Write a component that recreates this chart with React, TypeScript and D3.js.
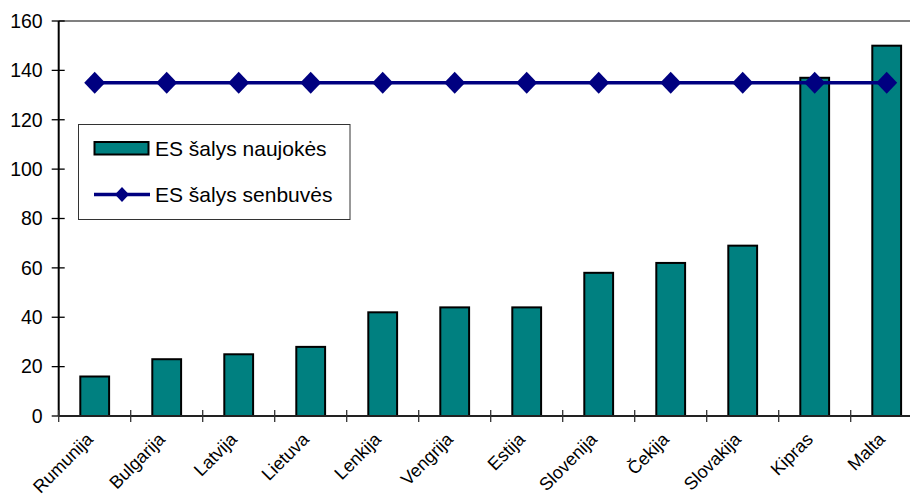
import React from "react";
import * as d3 from "d3";

const categories = [
  "Rumunija", "Bulgarija", "Latvija", "Lietuva", "Lenkija", "Vengrija",
  "Estija", "Slovenija", "Čekija", "Slovakija", "Kipras", "Malta",
];
const newMembers = [16, 23, 25, 28, 42, 44, 44, 58, 62, 69, 137, 150];
const oldMembers = [135, 135, 135, 135, 135, 135, 135, 135, 135, 135, 135, 135];
const yTicks = [0, 20, 40, 60, 80, 100, 120, 140, 160];
const seriesNames = ["ES šalys naujokės", "ES šalys senbuvės"];

const W = 910;
const H = 499;
const left = 58.7;
const right = 922.7;
const top = 21;
const bottom = 416;
const font = "'Liberation Sans', Arial, sans-serif";
const teal = "#008080";
const navy = "#000080";

export default function App() {
  const x = d3
    .scaleBand<string>()
    .domain(categories)
    .range([left, right])
    .paddingInner(0.6)
    .paddingOuter(0.3);
  const y = d3.scaleLinear().domain([0, 160]).range([bottom, top]);
  const cx = (c: string) => (x(c) ?? 0) + x.bandwidth() / 2;
  const step = x.step();

  const line = d3
    .line<number>()
    .x((_, i) => cx(categories[i]))
    .y((d) => y(d));

  const diamond = (px: number, py: number, rw: number, rh: number) =>
    `M${px},${py - rh}L${px + rw},${py}L${px},${py + rh}L${px - rw},${py}Z`;

  return (
    <svg
      width={W}
      height={H}
      style={{ position: "absolute", left: 0, top: 0, background: "#fff" }}
      fontFamily={font}
    >
      {/* top frame line */}
      <line x1={left} x2={W} y1={top} y2={top} stroke="#808080" strokeWidth={2} />

      {/* bars */}
      {categories.map((c, i) => (
        <rect
          key={c}
          x={x(c)}
          y={y(newMembers[i])}
          width={x.bandwidth()}
          height={bottom - y(newMembers[i])}
          fill={teal}
          stroke="#000"
          strokeWidth={2}
        />
      ))}

      {/* y axis */}
      <line x1={left} x2={left} y1={top} y2={bottom} stroke="#000" strokeWidth={2} />
      {yTicks.map((t) => (
        <g key={t}>
          <line x1={left - 7} x2={left + 6} y1={y(t)} y2={y(t)} stroke="#000" strokeWidth={1.3} />
          <text
            x={left - 16}
            y={y(t)}
            dy="0.35em"
            textAnchor="end"
            fontSize={19.5}
            fill="#000"
          >
            {t}
          </text>
        </g>
      ))}

      {/* x axis */}
      <line x1={left} x2={W} y1={bottom} y2={bottom} stroke="#222" strokeWidth={2} />
      {categories.map((c, i) => (
        <line
          key={c}
          x1={left + step * i}
          x2={left + step * i}
          y1={bottom - 6}
          y2={bottom + 6}
          stroke="#333"
          strokeWidth={1.3}
        />
      ))}
      {categories.map((c) => (
        <text
          key={c}
          transform={`translate(${cx(c) - 5},${bottom + 20}) rotate(-45)`}
          textAnchor="end"
          dy="0.35em"
          fontSize={18}
          fill="#000"
        >
          {c}
        </text>
      ))}

      {/* line series */}
      <path d={line(oldMembers) ?? ""} fill="none" stroke={navy} strokeWidth={3.5} />
      {oldMembers.map((v, i) => (
        <path key={i} d={diamond(cx(categories[i]), y(v), 10.5, 11)} fill={navy} />
      ))}

      {/* legend */}
      <rect x={78.5} y={124.5} width={271.5} height={95} fill="#fff" stroke="#333" strokeWidth={1} />
      <rect x={94.5} y={142} width={54} height={12.5} fill={teal} stroke="#000" strokeWidth={2} />
      <text x={155} y={148.5} dy="0.35em" fontSize={21} fill="#000">
        {seriesNames[0]}
      </text>
      <line x1={94} x2={150} y1={194.5} y2={194.5} stroke={navy} strokeWidth={3.5} />
      <path d={diamond(122, 194.5, 7, 7.5)} fill={navy} />
      <text x={155} y={195} dy="0.35em" fontSize={21} fill="#000">
        {seriesNames[1]}
      </text>
    </svg>
  );
}
